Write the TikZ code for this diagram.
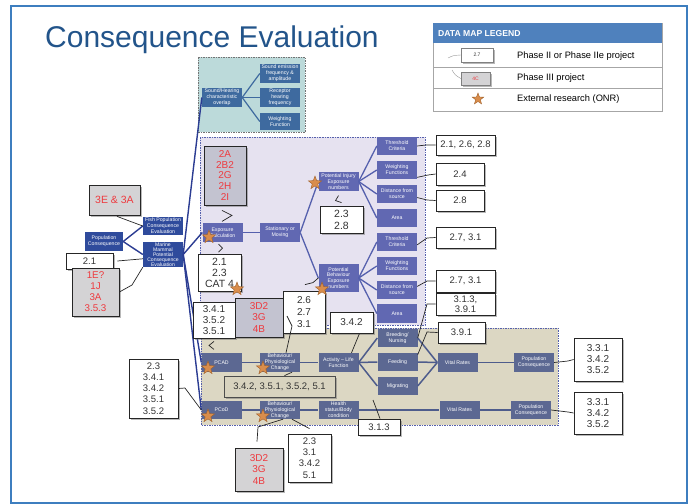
\documentclass[tikz,border=0pt]{standalone}
\usepackage{fontspec}
\setmainfont{Liberation Sans}
\usetikzlibrary{shapes.geometric,shadows,calc}

\definecolor{framecol}{HTML}{3D7EBF}
\definecolor{titlecol}{HTML}{22548A}
\definecolor{legendhead}{HTML}{4F81BD}
\definecolor{navy}{HTML}{2B3C92}
\definecolor{leftbox}{HTML}{2F4B9C}
\definecolor{tealbg}{HTML}{BCDADA}
\definecolor{tealbox}{HTML}{3E6A9F}
\definecolor{purplebg}{HTML}{E6E2F0}
\definecolor{purplebox}{HTML}{6168B2}
\definecolor{purpleline}{HTML}{5560AD}
\definecolor{tanbg}{HTML}{DCD7C3}
\definecolor{tanbox}{HTML}{5C6892}
\definecolor{tanline}{HTML}{4E5C8C}
\definecolor{tanlab}{HTML}{D8D3BF}
\definecolor{refred}{HTML}{EE3A3F}
\definecolor{graybox}{HTML}{D4D3D5}
\definecolor{stargold}{HTML}{D98D4C}
\definecolor{starline}{HTML}{A0602A}
\definecolor{labtext}{HTML}{333333}

\tikzset{
  box/.style={rectangle, text=white, align=center, inner sep=0pt,
    font=\fontsize{5.2}{5.9}\selectfont, minimum width=40pt, minimum height=19pt},
  leftb/.style={box, fill=leftbox},
  tealb/.style={box, fill=tealbox},
  purb/.style={box, fill=purplebox},
  tanb/.style={box, fill=tanbox},
  lab/.style={rectangle, draw=black!85, line width=0.8pt, fill=white, align=center,
    inner sep=0pt, font=\fontsize{9.5}{11.2}\selectfont, text=labtext,
    drop shadow={shadow xshift=1.6pt, shadow yshift=-1.6pt, fill=black!55}},
  redlab/.style={lab, fill=graybox, text=refred},
  conn/.style={draw=black!85, line width=0.7pt},
  fan/.style={draw=navy, line width=1.4pt},
  tealfan/.style={draw=tealbox, line width=1.2pt},
  purfan/.style={draw=purpleline, line width=1.3pt},
  tanfan/.style={draw=tanline, line width=1.5pt},
  region/.style={draw=purpleline, line width=0.6pt, dash pattern=on 1.5pt off 1pt},
  onr/.style={star, star points=5, star point ratio=2.4, minimum size=14pt,
    inner sep=0pt, fill=stargold, draw=starline, line width=0.4pt}
}

\begin{document}
\begin{tikzpicture}[x=1pt,y=-1pt]
\useasboundingbox (0,0) rectangle (689,504);

% outer frame and title
\draw[framecol, line width=1.4pt] (11,6) rectangle (687,503);
\node[anchor=base west, text=titlecol, font=\fontsize{30}{34}\selectfont, inner sep=0pt]
  (title) at (45,47) {Consequence Evaluation};

% legend
\draw[draw=black!35, fill=white] (433,23) rectangle (662,111);
\fill[legendhead] (433,23) rectangle (662,43);
\node[anchor=west, text=white, font=\bfseries\fontsize{8.6}{10}\selectfont, inner sep=0pt]
  (lgh) at (438,33.5) {DATA MAP LEGEND};
\draw[black!35] (433,67) -- (662,67) (433,88) -- (662,88);
\node[lab, minimum width=32pt, minimum height=14pt, font=\fontsize{5}{6}\selectfont,
  line width=0.4pt, draw=black!50] (lg1) at (477,55) {2.7};
\draw[draw=black!40, line width=0.4pt] (448,58) .. controls (453,55.5) .. (lg1.west);
\node[redlab, minimum width=29pt, minimum height=13pt, font=\fontsize{5}{6}\selectfont,
  line width=0.4pt, draw=black!50] (lg2) at (475.5,78.5) {4C};
\draw[draw=black!40, line width=0.4pt] (452,70) .. controls (455,75) .. (lg2.west);
\node[onr, minimum size=12pt] (lg3) at (478,99) {};
\node[anchor=west, font=\fontsize{9.3}{11}\selectfont, inner sep=0pt] (lt1) at (517,56) {Phase II or Phase IIe project};
\node[anchor=west, font=\fontsize{9.3}{11}\selectfont, inner sep=0pt] (lt2) at (517,78) {Phase III project};
\node[anchor=west, font=\fontsize{9.3}{11}\selectfont, inner sep=0pt] (lt3) at (517,99) {External research (ONR)};

% shaded regions
\draw[region, draw=black!55, fill=tealbg] (198,57) rectangle (305,132);
\draw[region, fill=purplebg] (200,137) rectangle (425,325);
\draw[region, fill=tanbg] (201,328) rectangle (558,425);

% left column
\node[leftb, minimum width=38pt] (popc) at (104,241.5) {Population\\Consequence};
\node[leftb, minimum height=18pt] (fish) at (163,226) {Fish Population\\Consequence\\Evaluation};
\node[leftb, minimum height=25pt, font=\fontsize{5.1}{5}\selectfont] (mm) at (163,254.5) {Marine\\Mammal\\Potential\\Consequence\\Evaluation};

% sound / hearing block
\node[tealb] (sho) at (222,97.5) {Sound/Hearing\\characteristic\\overlap};
\node[tealb] (sea) at (280,73.5) {Sound emission\\frequency \&\\amplitude};
\node[tealb] (rhf) at (280,97.5) {Receptor\\hearing\\frequency};
\node[tealb, minimum height=17pt] (wfn) at (280,121.5) {Weighting\\Function};

% exposure block
\node[purb] (ec) at (222.5,232.5) {Exposure\\Calculation};
\node[purb] (sm) at (280,232.5) {Stationary or\\Moving};
\node[purb] (pie) at (338.5,181.5) {Potential Injury\\Exposure\\numbers};
\node[purb, minimum height=28pt] (pbe) at (338.5,278) {Potential\\Behaviour\\Exposure\\numbers};
\node[purb, minimum height=18pt] (tc1) at (397,146) {Threshold\\Criteria};
\node[purb, minimum height=18pt] (wf1) at (397,170) {Weighting\\Functions};
\node[purb, minimum height=18pt] (ds1) at (397,194) {Distance from\\source};
\node[purb, minimum height=18pt] (ar1) at (397,218) {Area};
\node[purb, minimum height=18pt] (tc2) at (397,242) {Threshold\\Criteria};
\node[purb, minimum height=18pt] (wf2) at (397,266) {Weighting\\Functions};
\node[purb, minimum height=18pt] (ds2) at (397,290) {Distance from\\source};
\node[purb, minimum height=19pt] (ar2) at (397,313.5) {Area};

% consequence block
\node[tanb] (pcad) at (221.5,362.5) {PCAD};
\node[tanb] (bpc1) at (280,362.5) {Behaviour/\\Physiological\\Change};
\node[tanb] (alf) at (338.5,362.5) {Activity -- Life\\Function};
\node[tanb, minimum height=18pt] (bn) at (397.5,338) {Breeding/\\Nursing};
\node[tanb, minimum height=18pt] (fd) at (397.5,362) {Feeding};
\node[tanb, minimum height=18pt] (mg) at (397.5,386) {Migrating};
\node[tanb] (vr1) at (457.5,362.5) {Vital Rates};
\node[tanb] (pc1) at (534,362.5) {Population\\Consequence};
\node[tanb, minimum height=18pt] (pcod) at (221.5,410) {PCoD};
\node[tanb, minimum height=18pt] (bpc2) at (280,410) {Behaviour/\\Physiological\\Change};
\node[tanb, minimum height=18pt] (hsb) at (338.5,410) {Health\\status/Body\\condition};
\node[tanb, minimum height=18pt] (vr2) at (459.5,410) {Vital Rates};
\node[tanb, minimum height=18pt] (pc2) at (531,410) {Population\\Consequence};

% branching lines
\begin{scope}[on background layer/.style={}]
\draw[fan] (popc.east) -- (fish.west);
\draw[fan] (popc.east) -- (mm.west);
\draw[fan] (mm.east) -- (sho.west);
\draw[fan] (mm.east) -- (ec.west);
\draw[fan] (mm.east) -- (pcad.west);
\draw[fan] (mm.east) -- (pcod.west);
\end{scope}
\draw[tealfan] (sho.east) -- (sea.west);
\draw[tealfan] (sho.east) -- (rhf.west);
\draw[tealfan] (sho.east) -- (wfn.west);
\draw[purfan] (ec.east) -- (sm.west);
\draw[purfan] (sm.east) -- (pie.west);
\draw[purfan] (sm.east) -- (pbe.west);
\foreach \t in {tc1,wf1,ds1,ar1} \draw[purfan] (pie.east) -- (\t.west);
\foreach \t in {tc2,wf2,ds2,ar2} \draw[purfan] (pbe.east) -- (\t.west);
\draw[tanfan] (pcad.east) -- (bpc1.west);
\draw[tanfan] (bpc1.east) -- (alf.west);
\foreach \t in {bn,fd,mg} {
  \draw[tanfan] (alf.east) -- (\t.west);
  \draw[tanfan] (\t.east) -- (vr1.west);
}
\draw[tanfan] (vr1.east) -- (pc1.west);
\draw[tanfan] (pcod.east) -- (bpc2.west);
\draw[tanfan] (bpc2.east) -- (hsb.west);
\draw[tanfan] (hsb.east) -- (vr2.west);
\draw[tanfan] (vr2.east) -- (pc2.west);

% project reference boxes
\node[redlab, minimum width=51pt, minimum height=30pt, font=\fontsize{10.5}{12}\selectfont] (g1) at (114.5,200) {3E \& 3A};
\node[lab, minimum width=47pt, minimum height=16pt] (l13) at (89.5,261) {2.1};
\node[redlab, minimum width=47pt, minimum height=48pt, font=\fontsize{9.8}{11}\selectfont] (g4) at (95.5,292) {1E?\\1J\\3A\\3.5.3};

\node[redlab, fill=graybox!85!purplebox, minimum width=42pt, minimum height=59pt, font=\fontsize{10}{10.8}\selectfont] (g2) at (225,175.5) {2A\\2B2\\2G\\2H\\2I};
\node[lab, minimum width=59pt, minimum height=20pt] (l1) at (465.5,145) {2.1, 2.6, 2.8};
\node[lab, minimum width=48pt, minimum height=22pt] (l2) at (460,174) {2.4};
\node[lab, minimum width=48pt, minimum height=21pt] (l3) at (460,200.5) {2.8};
\node[lab, minimum width=59pt, minimum height=21pt] (l4) at (465.5,237.5) {2.7, 3.1};
\node[lab, minimum width=59pt, minimum height=22pt] (l5) at (465.5,281) {2.7, 3.1};
\node[lab, minimum width=59pt, minimum height=22pt, font=\fontsize{9.5}{9.8}\selectfont] (l6) at (465.5,304) {3.1.3,\\3.9.1};
\node[lab, minimum width=43pt, minimum height=27pt, font=\fontsize{10.5}{12}\selectfont] (l7) at (341.5,219.5) {2.3\\2.8};
\node[lab, minimum width=43pt, minimum height=37pt, font=\fontsize{10.5}{11}\selectfont] (l8) at (219.5,272.5) {2.1\\2.3\\CAT 4};
\node[lab, minimum width=42pt, minimum height=36pt, font=\fontsize{10}{10.8}\selectfont] (l9) at (214,320) {3.4.1\\3.5.2\\3.5.1};
\node[redlab, fill=graybox!85!purplebox, minimum width=48pt, minimum height=39pt, font=\fontsize{10}{11.5}\selectfont] (g3) at (259,317.5) {3D2\\3G\\4B};
\node[lab, minimum width=42pt, minimum height=42pt, font=\fontsize{10}{12}\selectfont] (l10) at (304,312) {2.6\\2.7\\3.1};
\node[lab, minimum width=43pt, minimum height=21pt, font=\fontsize{10}{12}\selectfont] (l11) at (351.5,322.5) {3.4.2};
\node[lab, minimum width=47pt, minimum height=21pt] (l12) at (461.5,332.5) {3.9.1};

\node[lab, fill=tanlab, draw=black!70, minimum width=111pt, minimum height=21pt] (l14) at (279.5,386.5) {3.4.2, 3.5.1, 3.5.2, 5.1};
\node[lab, minimum width=42pt, minimum height=16pt] (l15) at (379,427) {3.1.3};
\node[lab, minimum width=48pt, minimum height=43pt, font=\fontsize{10}{11}\selectfont] (l16) at (598,359.5) {3.3.1\\3.4.2\\3.5.2};
\node[lab, minimum width=48pt, minimum height=42pt, font=\fontsize{10}{11}\selectfont] (l17) at (598,413) {3.3.1\\3.4.2\\3.5.2};
\node[lab, minimum width=49pt, minimum height=59pt, font=\fontsize{9.5}{11.2}\selectfont] (l18) at (153.5,388.5) {2.3\\3.4.1\\3.4.2\\3.5.1\\3.5.2};
\node[redlab, minimum width=48pt, minimum height=43pt, font=\fontsize{10}{11.5}\selectfont] (g5) at (259,469.5) {3D2\\3G\\4B};
\node[lab, minimum width=43pt, minimum height=48pt, font=\fontsize{9.5}{11.2}\selectfont] (l19) at (309.5,458) {2.3\\3.1\\3.4.2\\5.1};

% reference connectors
\coordinate (k1) at (287,316);
\coordinate (k2) at (373,400);
\draw[conn] ([xshift=2.5pt,yshift=-1pt]g1.south) -- (132,222) -- (fish.west);
\draw[conn] ([xshift=4pt]l13.east) -- (mm.192);
\draw[conn] (g4.east) -- (132,285) -- (mm.south west);
\draw[conn] (l1.west) -- (426,145) -- (tc1.east);
\draw[conn] (l2.west) -- (428,175) -- (wf1.-20);
\draw[conn] (l3.west) -- (427,200) -- (ds1.-10);
\draw[conn] (l4.west) -- (427,238) -- (tc2.-8);
\draw[conn] (l5.west) -- (427,281) -- (ds2.10);
\draw[conn] (l6.west) -- (427,304) -- (bn.east);
\draw[conn] (l12.west) -- (427,332) -- (fd.20);
\draw[conn] ([yshift=3pt]l7.north) -- ++(-6,-2) -- ++(3,-5);
\draw[conn] ([xshift=-3pt,yshift=-5pt]g2.south) -- ++(10,5) -- ++(-10,6);
\draw[conn] ([xshift=-4pt,yshift=-2pt]ec.south) -- ++(4,4) -- ++(-4,4);
\draw[conn] ([yshift=-3pt]l9.south) -- ++(-5,4) -- ++(5,4);
\draw[conn] (k1) -- (292,326) -- ([xshift=6pt]bpc1.north);
\draw[conn] ([xshift=1pt,yshift=6pt]l10.north) -- ++(8,-2) -- (pbe.west);
\draw[conn] ([xshift=8pt]l11.south) -- ([xshift=13pt]alf.north);
\draw[conn] ([xshift=5pt]l14.north) -- ([xshift=12pt]bpc2.north |- bpc1.south);
\draw[conn] (k2) -- ([xshift=1pt]l15.north);
\draw[conn] (pc1.east) -- (568,361) -- (l16.west);
\draw[conn] (pc2.east) -- (568,412) -- (l17.west);
\draw[conn] (l18.east) -- (185,388) -- (pcod.west);
\draw[conn] ([xshift=-2pt,yshift=6pt]g5.north) -- (258,427) -- ([xshift=3pt]bpc2.south);
\draw[conn] ([yshift=5pt]l19.north) -- ([xshift=12pt]bpc2.south);

% external research markers
\node[onr] (s1) at (209,237) {};
\node[onr] (s2) at (315,183) {};
\node[onr] (s3) at (237,289) {};
\node[onr] (s4) at (322,289) {};
\node[onr] (s5) at (208,368) {};
\node[onr] (s6) at (263,368) {};
\node[onr] (s7) at (208,416) {};
\node[onr] (s8) at (263,416) {};
\end{tikzpicture}
\end{document}
